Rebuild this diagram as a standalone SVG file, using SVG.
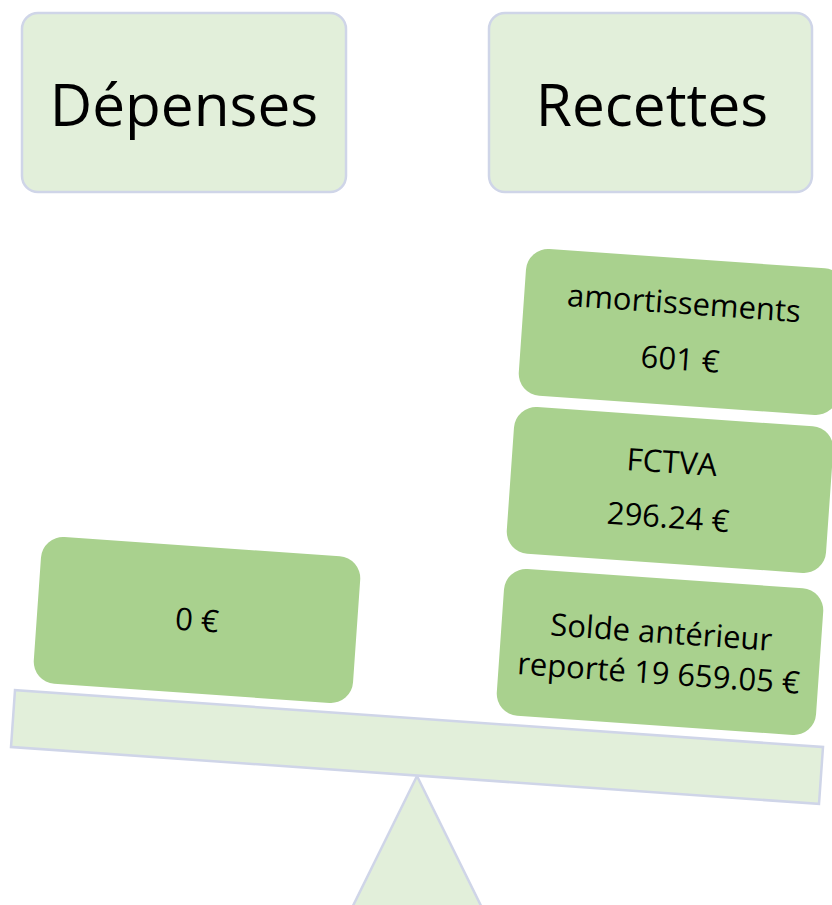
<svg xmlns="http://www.w3.org/2000/svg" width="832" height="905" viewBox="0 0 832 905">
<style>
  .hdr { fill: #e2efda; stroke: #cfd5e8; stroke-width: 2.5; }
  .bar { fill: #e2efda; stroke: #cfd5e8; stroke-width: 2.5; }
  .item { fill: #a9d18e; }
  .ht { font-family: "Open Sans", "Liberation Sans", sans-serif; font-size: 58.5px; fill: #000; text-anchor: middle; }
  .it { font-family: "Open Sans", "Liberation Sans", sans-serif; font-size: 31px; fill: #000; text-anchor: middle; }
</style>
<rect width="832" height="905" fill="#ffffff"/>
<g id="depenses">
  <rect class="hdr" x="22" y="13" width="324" height="179" rx="16"/>
  <text class="ht" x="184" y="126">Dépenses</text>
</g>
<g id="recettes">
  <rect class="hdr" x="489" y="13" width="323" height="179" rx="16"/>
  <text class="ht" x="652" y="126">Recettes</text>
</g>
<g id="fulcrum">
  <polygon class="bar" points="417,776 345,922 489,922"/>
</g>
<g id="beam">
  <rect class="bar" x="12" y="718.5" width="810" height="57" transform="rotate(4.03 417 747)"/>
</g>
<g id="zero" transform="translate(197 620) rotate(4)">
  <rect class="item" x="-160" y="-73.5" width="320" height="147" rx="22"/>
  <text class="it" x="0" y="11">0 €</text>
</g>
<g id="solde" transform="translate(660 652) rotate(4)">
  <rect class="item" x="-160" y="-73.5" width="320" height="147" rx="22"/>
  <text class="it" x="0" y="-9">Solde antérieur</text>
  <text class="it" x="0" y="32">reporté 19 659.05 €</text>
</g>
<g id="fctva" transform="translate(670 490) rotate(4)">
  <rect class="item" x="-160" y="-73.5" width="320" height="147" rx="22"/>
  <text class="it" x="0" y="-17">FCTVA</text>
  <text class="it" x="0" y="38">296.24 €</text>
</g>
<g id="amortissements" transform="translate(682 332) rotate(4)">
  <rect class="item" x="-160" y="-73.5" width="320" height="147" rx="22"/>
  <text class="it" x="0" y="-18">amortissements</text>
  <text class="it" x="0" y="38">601 €</text>
</g>
<g id="connectors"></g>
</svg>
